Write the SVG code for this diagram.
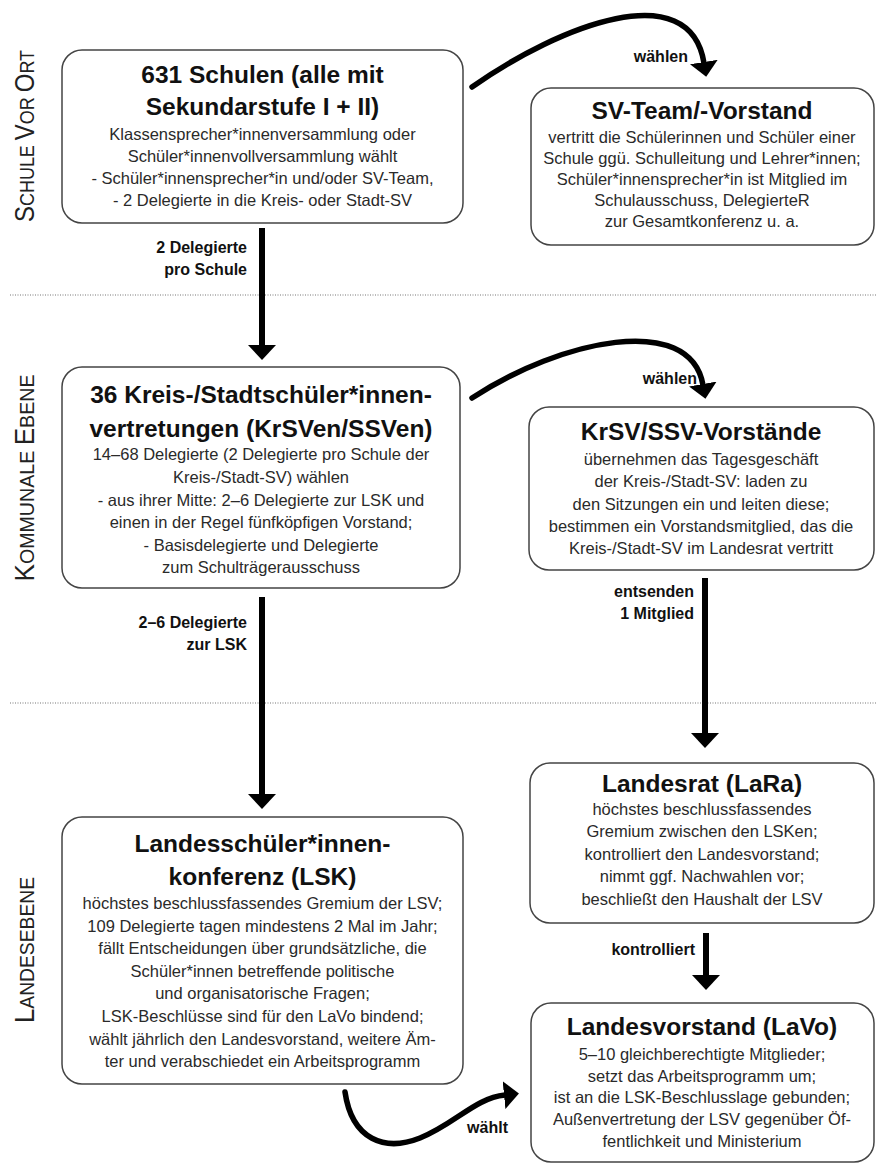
<svg xmlns="http://www.w3.org/2000/svg" width="877" height="1164" viewBox="0 0 877 1164">
<style>
.box{fill:#fff;stroke:#444;stroke-width:1.5}
.t{font-family:"Liberation Sans",Arial,sans-serif;font-weight:bold;font-size:24.5px;fill:#111;text-anchor:middle}
.b{font-family:"Liberation Sans",Arial,sans-serif;font-size:16.5px;fill:#2a2a2a;text-anchor:middle}
.l{font-family:"Liberation Sans",Arial,sans-serif;font-weight:bold;font-size:16px;fill:#111;text-anchor:end}
.side{font-family:"Liberation Sans",Arial,sans-serif;fill:#222;text-anchor:middle}
.big{font-size:28px}
.sm{font-size:21px}
.dot{stroke:#777;stroke-width:1.2;stroke-dasharray:1 1.5;fill:none}
.ar{stroke:#000;stroke-width:6;fill:none;marker-end:url(#ah)}
.cv{stroke:#000;stroke-width:5.5;fill:none;stroke-linecap:round;marker-end:url(#ah)}
</style>
<defs>
<marker id="ah" markerUnits="userSpaceOnUse" viewBox="0 0 15 28" markerWidth="15" markerHeight="28" refX="1" refY="14" orient="auto">
<path d="M0,0 L15,14 L0,28 Z" fill="#000"/>
</marker>
</defs>
<rect width="877" height="1164" fill="#fff"/>

<g id="separators">
<line class="dot" x1="10" y1="295" x2="877" y2="295"/>
<line class="dot" x1="10" y1="703" x2="877" y2="703"/>
</g>

<g id="side-labels">
<text class="side" transform="translate(34,136) rotate(-90)" textLength="172" lengthAdjust="spacingAndGlyphs"><tspan class="big">S</tspan><tspan class="sm">CHULE </tspan><tspan class="big">V</tspan><tspan class="sm">OR </tspan><tspan class="big">O</tspan><tspan class="sm">RT</tspan></text>
<text class="side" transform="translate(34,478) rotate(-90)" textLength="207" lengthAdjust="spacingAndGlyphs"><tspan class="big">K</tspan><tspan class="sm">OMMUNALE </tspan><tspan class="big">E</tspan><tspan class="sm">BENE</tspan></text>
<text class="side" transform="translate(34,950) rotate(-90)" textLength="146" lengthAdjust="spacingAndGlyphs"><tspan class="big">L</tspan><tspan class="sm">ANDESEBENE</tspan></text>
</g>

<g id="connectors">
<path class="cv" d="M472,87 C560,25 690,-25 704,63"/>
<path class="cv" d="M472,398 C560,340 690,312 703,385"/>
<path class="ar" d="M262,228 V346"/>
<path class="ar" d="M262,597 V795"/>
<path class="ar" d="M705,578 V734"/>
<path class="ar" d="M706,933 V976"/>
<path class="cv" d="M345,1092 C352,1140 385,1152 420,1138 C455,1124 475,1098 505,1095"/>
<text class="l" x="688" y="62">wählen</text>
<text class="l" x="697" y="384">wählen</text>
<text class="l" x="247" y="253">2 Delegierte</text>
<text class="l" x="247" y="275">pro Schule</text>
<text class="l" x="247" y="628">2–6 Delegierte</text>
<text class="l" x="247" y="650">zur LSK</text>
<text class="l" x="694" y="597">entsenden</text>
<text class="l" x="694" y="619">1 Mitglied</text>
<text class="l" x="695" y="955">kontrolliert</text>
<text class="l" x="508" y="1133">wählt</text>
</g>

<g id="schulen">
<rect class="box" x="62" y="50" width="401" height="173" rx="20"/>
<text class="t" x="262.5" y="83">631 Schulen (alle mit</text>
<text class="t" x="262.5" y="115">Sekundarstufe I + II)</text>
<text class="b" x="262.5" y="140">Klassensprecher*innenversammlung oder</text>
<text class="b" x="262.5" y="162">Schüler*innenvollversammlung wählt</text>
<text class="b" x="262.5" y="184">- Schüler*innensprecher*in und/oder SV-Team,</text>
<text class="b" x="262.5" y="206">- 2 Delegierte in die Kreis- oder Stadt-SV</text>
</g>

<g id="sv-team">
<rect class="box" x="531" y="88" width="343" height="157" rx="20"/>
<text class="t" x="702" y="119">SV-Team/-Vorstand</text>
<text class="b" x="702" y="143">vertritt die Schülerinnen und Schüler einer</text>
<text class="b" x="702" y="164">Schule ggü. Schulleitung und Lehrer*innen;</text>
<text class="b" x="702" y="185">Schüler*innensprecher*in ist Mitglied im</text>
<text class="b" x="702" y="206">Schulausschuss, DelegierteR</text>
<text class="b" x="702" y="227">zur Gesamtkonferenz u. a.</text>
</g>

<g id="kreis-sv">
<rect class="box" x="62" y="367" width="398" height="221" rx="20"/>
<text class="t" x="261" y="403">36 Kreis-/Stadtschüler*innen-</text>
<text class="t" x="261" y="437">vertretungen (KrSVen/SSVen)</text>
<text class="b" x="261" y="460">14–68 Delegierte (2 Delegierte pro Schule der</text>
<text class="b" x="261" y="483">Kreis-/Stadt-SV) wählen</text>
<text class="b" x="261" y="506">- aus ihrer Mitte: 2–6 Delegierte zur LSK und</text>
<text class="b" x="261" y="528">einen in der Regel fünfköpfigen Vorstand;</text>
<text class="b" x="261" y="551">- Basisdelegierte und Delegierte</text>
<text class="b" x="261" y="573">zum Schulträgerausschuss</text>
</g>

<g id="krsv-vorstaende">
<rect class="box" x="529" y="407" width="345" height="163" rx="20"/>
<text class="t" x="701" y="440">KrSV/SSV-Vorstände</text>
<text class="b" x="701" y="465">übernehmen das Tagesgeschäft</text>
<text class="b" x="701" y="487">der Kreis-/Stadt-SV: laden zu</text>
<text class="b" x="701" y="510">den Sitzungen ein und leiten diese;</text>
<text class="b" x="701" y="532">bestimmen ein Vorstandsmitglied, das die</text>
<text class="b" x="701" y="554">Kreis-/Stadt-SV im Landesrat vertritt</text>
</g>

<g id="landesrat">
<rect class="box" x="530" y="763" width="344" height="160" rx="20"/>
<text class="t" x="702" y="792">Landesrat (LaRa)</text>
<text class="b" x="702" y="815">höchstes beschlussfassendes</text>
<text class="b" x="702" y="837">Gremium zwischen den LSKen;</text>
<text class="b" x="702" y="860">kontrolliert den Landesvorstand;</text>
<text class="b" x="702" y="882">nimmt ggf. Nachwahlen vor;</text>
<text class="b" x="702" y="905">beschließt den Haushalt der LSV</text>
</g>

<g id="lsk">
<rect class="box" x="62" y="817" width="401" height="267" rx="20"/>
<text class="t" x="262.5" y="852">Landesschüler*innen-</text>
<text class="t" x="262.5" y="885">konferenz (LSK)</text>
<text class="b" x="262.5" y="909">höchstes beschlussfassendes Gremium der LSV;</text>
<text class="b" x="262.5" y="932">109 Delegierte tagen mindestens 2 Mal im Jahr;</text>
<text class="b" x="262.5" y="954">fällt Entscheidungen über grundsätzliche, die</text>
<text class="b" x="262.5" y="977">Schüler*innen betreffende politische</text>
<text class="b" x="262.5" y="999">und organisatorische Fragen;</text>
<text class="b" x="262.5" y="1022">LSK-Beschlüsse sind für den LaVo bindend;</text>
<text class="b" x="262.5" y="1045">wählt jährlich den Landesvorstand, weitere Äm-</text>
<text class="b" x="262.5" y="1067">ter und verabschiedet ein Arbeitsprogramm</text>
</g>

<g id="landesvorstand">
<rect class="box" x="531" y="1003" width="343" height="159" rx="20"/>
<text class="t" x="702" y="1035">Landesvorstand (LaVo)</text>
<text class="b" x="702" y="1060">5–10 gleichberechtigte Mitglieder;</text>
<text class="b" x="702" y="1082">setzt das Arbeitsprogramm um;</text>
<text class="b" x="702" y="1103">ist an die LSK-Beschlusslage gebunden;</text>
<text class="b" x="702" y="1125">Außenvertretung der LSV gegenüber Öf-</text>
<text class="b" x="702" y="1147">fentlichkeit und Ministerium</text>
</g>
</svg>
